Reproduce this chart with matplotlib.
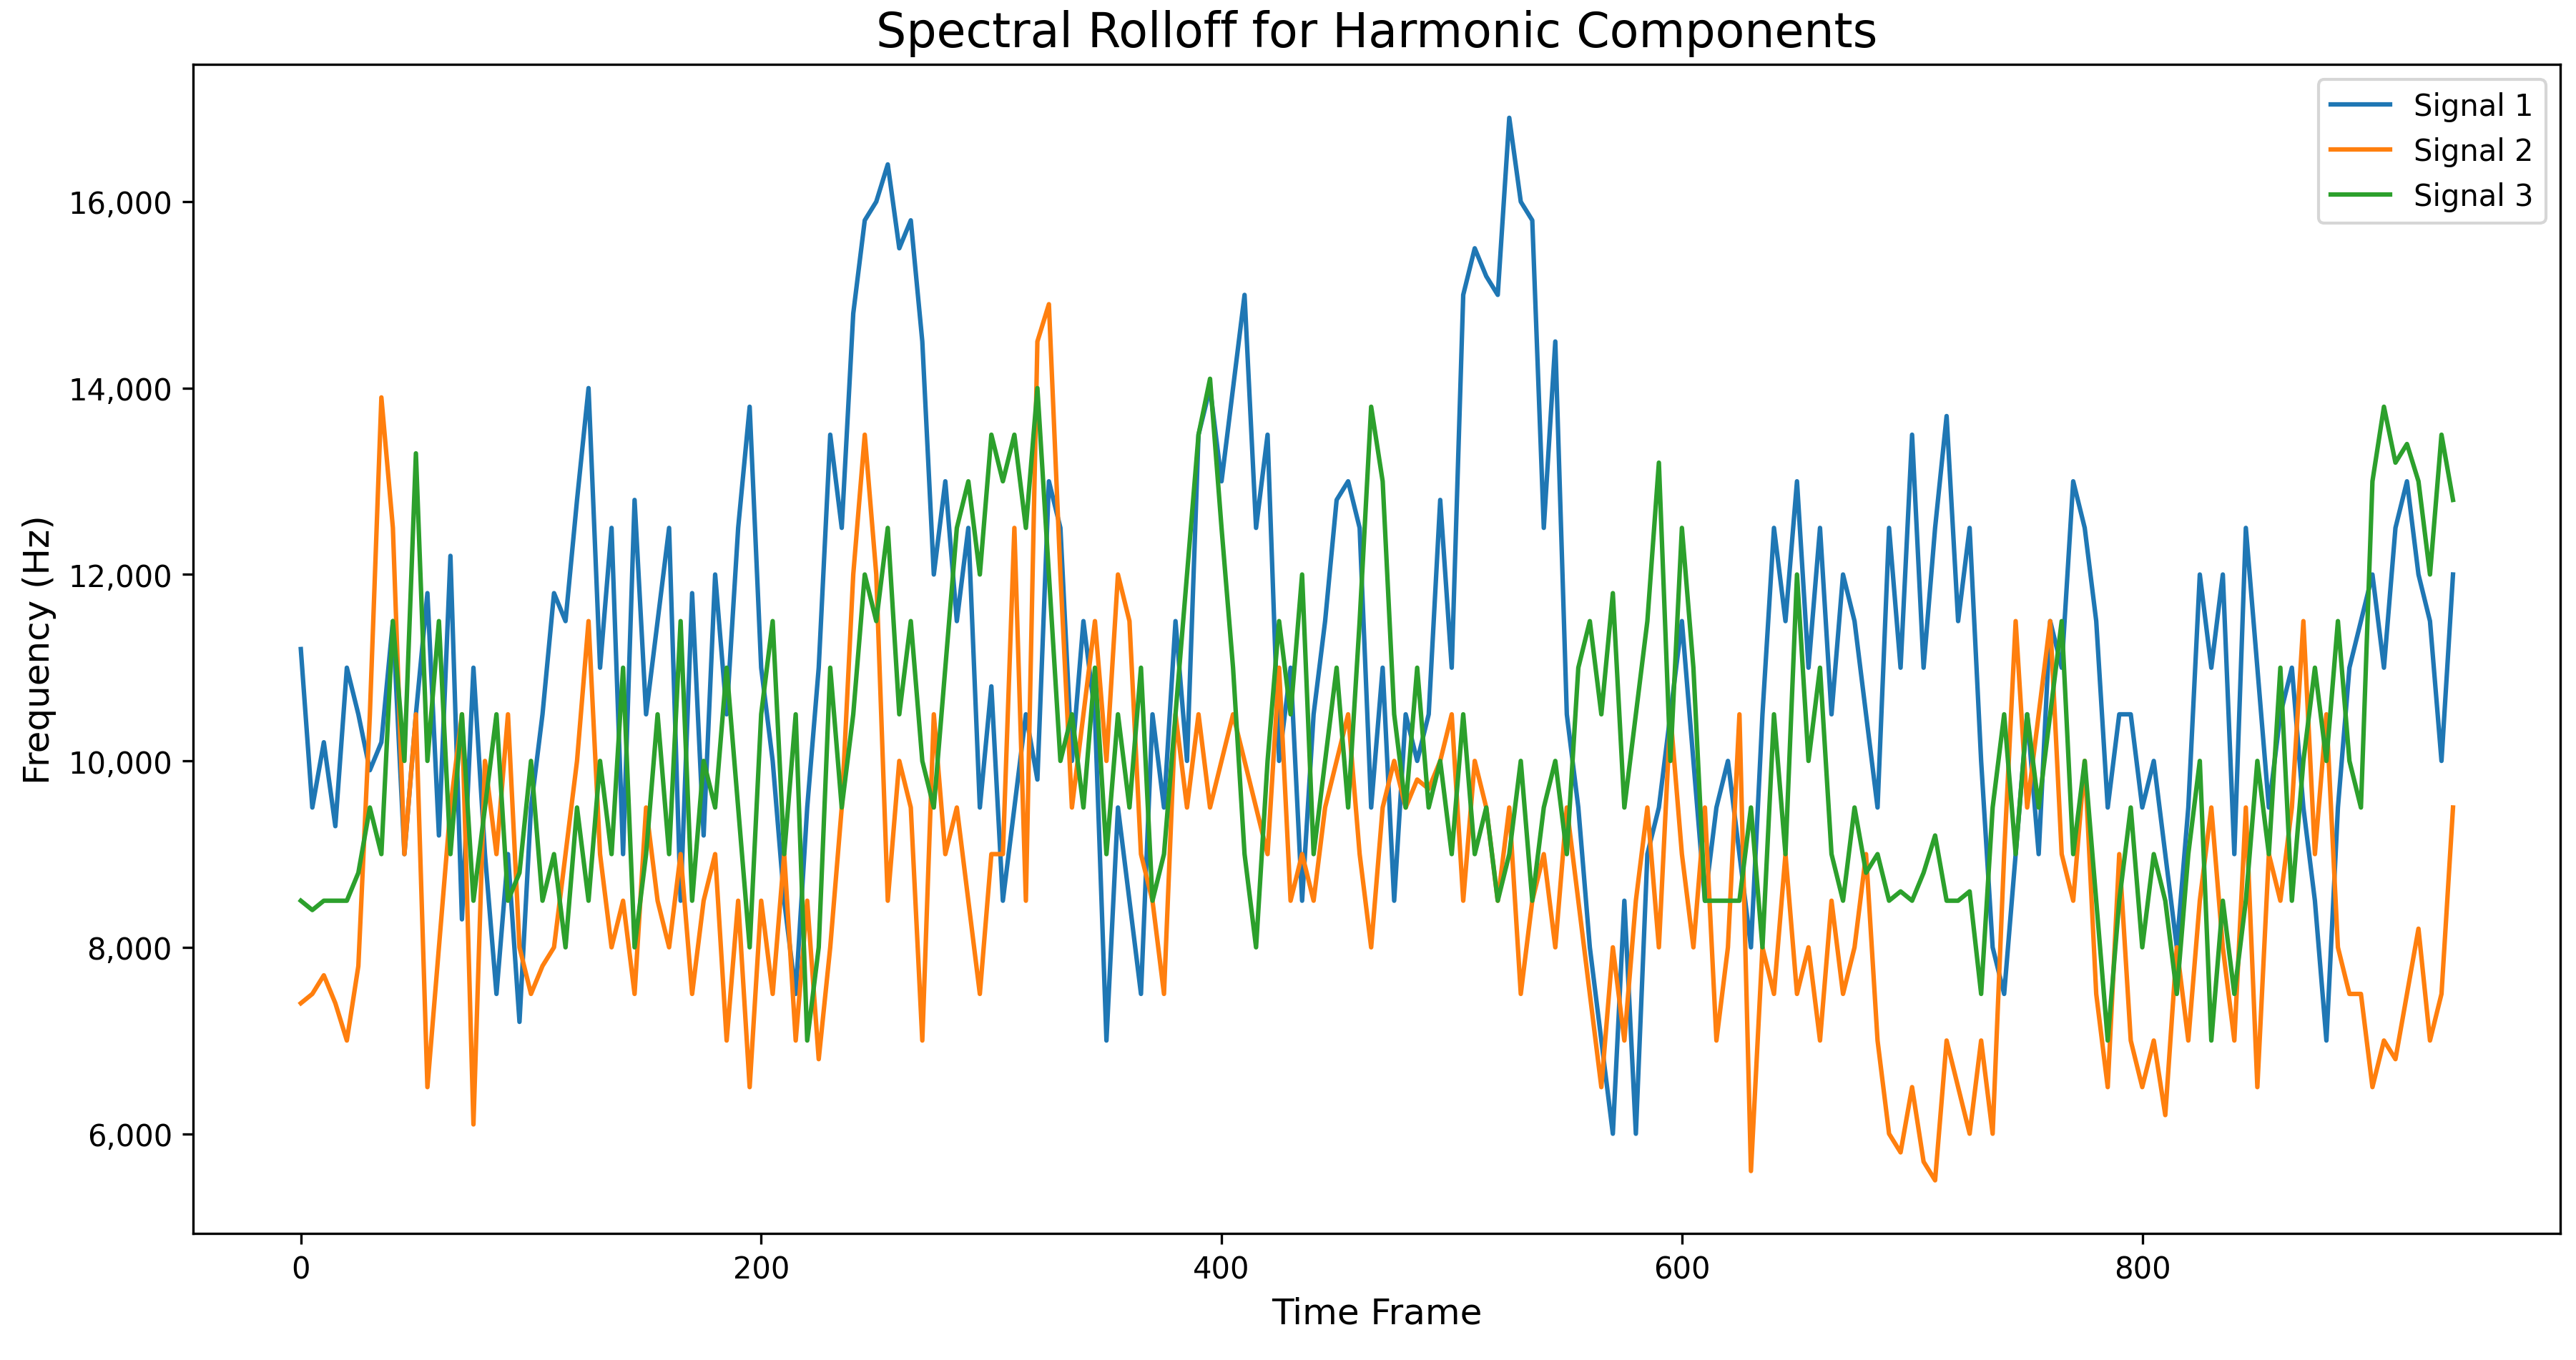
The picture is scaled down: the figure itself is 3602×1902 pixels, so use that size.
import numpy as np
import matplotlib
matplotlib.use("Agg")
import matplotlib.pyplot as plt
from matplotlib.ticker import FuncFormatter

# values every 5 frames, in kHz
frames = np.arange(0, 940, 5)

signal1 = [11.2, 9.5, 10.2, 9.3, 11.0,
    10.5, 9.9, 10.2, 11.5, 9.0, 10.5,
    11.8, 9.2, 12.2, 8.3, 11.0, 9.0, 7.5, 9.0, 7.2, 9.5,
    10.5, 11.8, 11.5, 12.8, 14.0, 11.0, 12.5, 9.0, 12.8, 10.5,
    11.5, 12.5, 8.5, 11.8, 9.2, 12.0, 10.5, 12.5, 13.8, 11.0,
    10.0, 8.5, 7.5, 9.5, 11.0, 13.5, 12.5, 14.8, 15.8, 16.0,
    16.4, 15.5, 15.8, 14.5, 12.0, 13.0, 11.5, 12.5, 9.5, 10.8,
    8.5, 9.5, 10.5, 9.8, 13.0, 12.5, 10.0, 11.5, 10.5, 7.0,
    9.5, 8.5, 7.5, 10.5, 9.5, 11.5, 10.0, 13.5, 14.0, 13.0,
    14.0, 15.0, 12.5, 13.5, 10.0, 11.0, 8.5, 10.5, 11.5, 12.8,
    13.0, 12.5, 9.5, 11.0, 8.5, 10.5, 10.0, 10.5, 12.8, 11.0,
    15.0, 15.5, 15.2, 15.0, 16.9, 16.0, 15.8, 12.5, 14.5, 10.5,
    9.5, 8.0, 7.0, 6.0, 8.5, 6.0, 9.0, 9.5, 10.5, 11.5,
    10.0, 8.5, 9.5, 10.0, 9.0, 8.0, 10.5, 12.5, 11.5, 13.0,
    11.0, 12.5, 10.5, 12.0, 11.5, 10.5, 9.5, 12.5, 11.0, 13.5,
    11.0, 12.5, 13.7, 11.5, 12.5, 10.0, 8.0, 7.5, 9.0, 10.5,
    9.0, 11.5, 11.0, 13.0, 12.5, 11.5, 9.5, 10.5, 10.5, 9.5,
    10.0, 9.0, 8.0, 9.5, 12.0, 11.0, 12.0, 9.0, 12.5, 11.0,
    9.5, 10.5, 11.0, 9.5, 8.5, 7.0, 9.5, 11.0, 11.5, 12.0,
    11.0, 12.5, 13.0, 12.0, 11.5, 10.0, 12.0]

signal2 = [7.4, 7.5, 7.7, 7.4, 7.0,
    7.8, 10.5, 13.9, 12.5, 9.0, 10.5,
    6.5, 8.0, 9.5, 10.5, 6.1, 10.0, 9.0, 10.5, 8.0, 7.5,
    7.8, 8.0, 9.0, 10.0, 11.5, 9.0, 8.0, 8.5, 7.5, 9.5,
    8.5, 8.0, 9.0, 7.5, 8.5, 9.0, 7.0, 8.5, 6.5, 8.5,
    7.5, 9.0, 7.0, 8.5, 6.8, 8.0, 9.5, 12.0, 13.5, 12.0,
    8.5, 10.0, 9.5, 7.0, 10.5, 9.0, 9.5, 8.5, 7.5, 9.0,
    9.0, 12.5, 8.5, 14.5, 14.9, 12.0, 9.5, 10.5, 11.5, 10.0,
    12.0, 11.5, 9.0, 8.5, 7.5, 10.5, 9.5, 10.5, 9.5, 10.0,
    10.5, 10.0, 9.5, 9.0, 11.0, 8.5, 9.0, 8.5, 9.5, 10.0,
    10.5, 9.0, 8.0, 9.5, 10.0, 9.5, 9.8, 9.7, 10.0, 10.5,
    8.5, 10.0, 9.5, 8.5, 9.5, 7.5, 8.5, 9.0, 8.0, 9.5,
    8.5, 7.5, 6.5, 8.0, 7.0, 8.5, 9.5, 8.0, 10.5, 9.0,
    8.0, 9.5, 7.0, 8.0, 10.5, 5.6, 8.0, 7.5, 9.0, 7.5,
    8.0, 7.0, 8.5, 7.5, 8.0, 9.0, 7.0, 6.0, 5.8, 6.5,
    5.7, 5.5, 7.0, 6.5, 6.0, 7.0, 6.0, 9.0, 11.5, 9.5,
    10.5, 11.5, 9.0, 8.5, 10.0, 7.5, 6.5, 9.0, 7.0, 6.5,
    7.0, 6.2, 8.0, 7.0, 8.5, 9.5, 8.0, 7.0, 9.5, 6.5,
    9.0, 8.5, 9.5, 11.5, 9.0, 10.5, 8.0, 7.5, 7.5, 6.5,
    7.0, 6.8, 7.5, 8.2, 7.0, 7.5, 9.5]

signal3 = [8.5, 8.4, 8.5, 8.5, 8.5,
    8.8, 9.5, 9.0, 11.5, 10.0, 13.3,
    10.0, 11.5, 9.0, 10.5, 8.5, 9.5, 10.5, 8.5, 8.8, 10.0,
    8.5, 9.0, 8.0, 9.5, 8.5, 10.0, 9.0, 11.0, 8.0, 9.0,
    10.5, 9.0, 11.5, 8.5, 10.0, 9.5, 11.0, 9.5, 8.0, 10.5,
    11.5, 9.0, 10.5, 7.0, 8.0, 11.0, 9.5, 10.5, 12.0, 11.5,
    12.5, 10.5, 11.5, 10.0, 9.5, 11.0, 12.5, 13.0, 12.0, 13.5,
    13.0, 13.5, 12.5, 14.0, 12.0, 10.0, 10.5, 9.5, 11.0, 9.0,
    10.5, 9.5, 11.0, 8.5, 9.0, 10.5, 12.0, 13.5, 14.1, 12.5,
    11.0, 9.0, 8.0, 10.0, 11.5, 10.5, 12.0, 9.0, 10.0, 11.0,
    9.5, 11.5, 13.8, 13.0, 10.5, 9.5, 11.0, 9.5, 10.0, 9.0,
    10.5, 9.0, 9.5, 8.5, 9.0, 10.0, 8.5, 9.5, 10.0, 9.0,
    11.0, 11.5, 10.5, 11.8, 9.5, 10.5, 11.5, 13.2, 10.0, 12.5,
    11.0, 8.5, 8.5, 8.5, 8.5, 9.5, 8.0, 10.5, 9.0, 12.0,
    10.0, 11.0, 9.0, 8.5, 9.5, 8.8, 9.0, 8.5, 8.6, 8.5,
    8.8, 9.2, 8.5, 8.5, 8.6, 7.5, 9.5, 10.5, 9.0, 10.5,
    9.5, 10.5, 11.5, 9.0, 10.0, 8.5, 7.0, 8.5, 9.5, 8.0,
    9.0, 8.5, 7.5, 9.0, 10.0, 7.0, 8.5, 7.5, 8.5, 10.0,
    9.0, 11.0, 8.5, 10.0, 11.0, 10.0, 11.5, 10.0, 9.5, 13.0,
    13.8, 13.2, 13.4, 13.0, 12.0, 13.5, 12.8]

fig = plt.figure(figsize=(12.007, 6.343), dpi=300)
ax = fig.add_axes([0.075, 0.093, 0.919, 0.859])

ax.plot(frames, np.array(signal1) * 1000, label="Signal 1", color="#1f77b4", linewidth=1.5)
ax.plot(frames, np.array(signal2) * 1000, label="Signal 2", color="#ff7f0e", linewidth=1.5)
ax.plot(frames, np.array(signal3) * 1000, label="Signal 3", color="#2ca02c", linewidth=1.5)

ax.yaxis.set_major_formatter(FuncFormatter(lambda v, p: f"{int(v):,}"))
ax.set_title("Spectral Rolloff for Harmonic Components", fontsize=16)
ax.set_xlabel("Time Frame", fontsize=12)
ax.set_ylabel("Frequency (Hz)", fontsize=12)
ax.legend(loc="upper right")

fig.savefig("out.png")
